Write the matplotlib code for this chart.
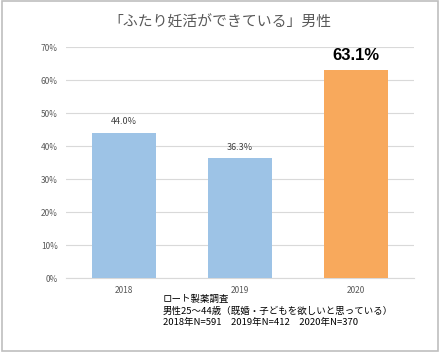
import matplotlib
matplotlib.use("Agg")
import matplotlib.pyplot as plt
from matplotlib.patches import Rectangle

plt.rcParams['font.family'] = ['Noto Sans CJK JP', 'DejaVu Sans']

years = ["2018", "2019", "2020"]
values = [44.0, 36.3, 63.1]
colors = ["#9DC3E6", "#9DC3E6", "#F8A95C"]
yticks = [0, 10, 20, 30, 40, 50, 60, 70]
title = "「ふたり妊活ができている」男性"
notes = ["ロート製薬調査",
         "男性25～44歳（既婚・子どもを欲しいと思っている）",
         "2018年N=591　2019年N=412　2020年N=370"]

fig = plt.figure(figsize=(4.4, 3.52), dpi=100)
fig.patches.append(Rectangle((0.004, 0.004), 0.992, 0.992, transform=fig.transFigure,
                             fill=False, edgecolor="#BFBFBF", linewidth=1.2))
ax = fig.add_axes([0.15, 0.21, 0.791, 0.656])
x = range(len(years))
bars = ax.bar(x, values, width=0.55, color=colors, zorder=3)
ax.set_xlim(-0.5, 2.5)
ax.set_ylim(0, 70)
ax.set_yticks(yticks)
ax.set_yticklabels([f"{t}%" for t in yticks], fontsize=6, color="#595959")
ax.set_xticks(list(x))
ax.set_xticklabels(years, fontsize=6, color="#595959")
ax.tick_params(length=0, pad=6)
ax.grid(axis="y", color="#D9D9D9", linewidth=0.8, zorder=0)
for s in ["top", "right", "left"]:
    ax.spines[s].set_visible(False)
ax.spines["bottom"].set_color("#D9D9D9")

for i, v in enumerate(values):
    if i == 2:
        ax.text(i, v + 2.2, f"{v:.1f}%", ha="center", va="bottom", fontsize=12,
                fontweight="bold", color="#000000", family=["Liberation Sans"])
    else:
        ax.text(i, v + 2.0, f"{v:.1f}%", ha="center", va="bottom", fontsize=6.5,
                color="#404040")

fig.text(0.5, 0.937, title, ha="center", va="center", fontsize=10.7, color="#595959")
for k, line in enumerate(notes):
    fig.text(0.37, 1 - (299 + 12 * k) / 352, line, ha="left", va="center",
             fontsize=6.8, color="#000000")

fig.savefig("out.png", dpi=100)
